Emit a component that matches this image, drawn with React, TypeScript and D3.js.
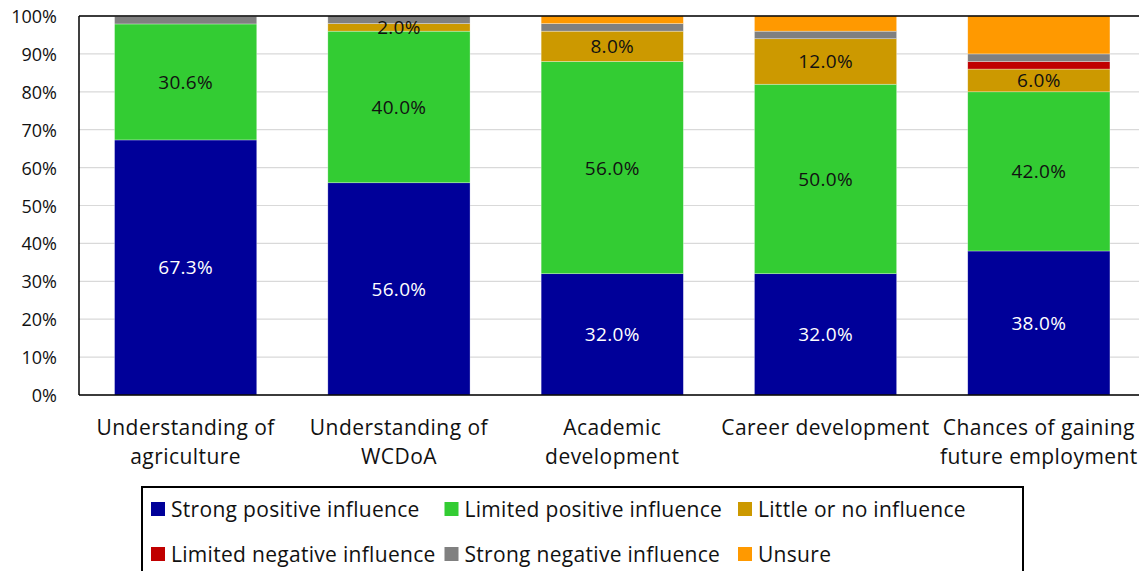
import React from 'react';
import * as d3 from 'd3';

// categories (two-line labels on the x axis)
const categories = [
  ['Understanding of', 'agriculture'],
  ['Understanding of', 'WCDoA'],
  ['Academic', 'development'],
  ['Career development'],
  ['Chances of gaining', 'future employment'],
];

const seriesNames = [
  'Strong positive influence',
  'Limited positive influence',
  'Little or no influence',
  'Limited negative influence',
  'Strong negative influence',
  'Unsure',
];
const seriesColors = ['#000099', '#33CC33', '#CC9900', '#C00000', '#808080', '#FF9900'];
const labelColors = ['#ffffff', '#111111', '#111111', null, null, null];

// percentages per category, one array per series
const strongPositive = [67.3, 56.0, 32.0, 32.0, 38.0];
const limitedPositive = [30.6, 40.0, 56.0, 50.0, 42.0];
const littleOrNone = [0, 2.0, 8.0, 12.0, 6.0];
const limitedNegative = [0, 0, 0, 0, 2.0];
const strongNegative = [2.0, 2.0, 2.0, 2.0, 2.0];
const unsure = [0, 0, 2.0, 4.0, 10.0];

const yTicks = [0, 10, 20, 30, 40, 50, 60, 70, 80, 90, 100];

const W = 1139;
const H = 571;
const FONT = '"Open Sans", sans-serif';

const App = () => {
  const keys = categories.map((c) => c.join(' '));
  const rows = keys.map((k, i) => ({
    key: k,
    s0: strongPositive[i],
    s1: limitedPositive[i],
    s2: littleOrNone[i],
    s3: limitedNegative[i],
    s4: strongNegative[i],
    s5: unsure[i],
  }));
  const stack = d3.stack<any>().keys(['s0', 's1', 's2', 's3', 's4', 's5']);
  const layers = stack(rows);

  const left = 79;
  const top = 16;
  const bottom = 395;
  const step = 213.3;

  const x = d3
    .scaleBand()
    .domain(keys)
    .range([left, left + step * keys.length])
    .paddingInner(1 / 3)
    .paddingOuter(1 / 6);
  const y = d3.scaleLinear().domain([0, 100]).range([bottom, top]);

  const right = left + step * keys.length;

  return (
    <svg
      width={W}
      height={H}
      style={{ position: 'absolute', left: 0, top: 0, background: '#fff' }}
      fontFamily={FONT}
    >
      {/* grid */}
      {yTicks.map((t) => (
        <line key={'g' + t} x1={left} x2={right} y1={y(t)} y2={y(t)} stroke="#d9d9d9" strokeWidth={1.2} />
      ))}

      {/* bars */}
      {layers.map((layer, si) => (
        <g key={si} fill={seriesColors[si]}>
          {layer.map((d, i) =>
            d[1] - d[0] > 0 ? (
              <rect
                key={i}
                x={x(keys[i])}
                width={x.bandwidth()}
                y={y(d[1])}
                height={y(d[0]) - y(d[1])}
                stroke="#ffffff"
                strokeOpacity={0.5}
                strokeWidth={0.6}
              />
            ) : null
          )}
        </g>
      ))}

      {/* data labels */}
      {layers.map((layer, si) =>
        labelColors[si]
          ? layer.map((d, i) =>
              d[1] - d[0] > 0 ? (
                <text
                  key={si + '-' + i}
                  x={(x(keys[i]) as number) + x.bandwidth() / 2}
                  y={(y(d[0]) + y(d[1])) / 2}
                  textAnchor="middle"
                  dominantBaseline="central"
                  fontSize={19}
                  letterSpacing={0.3}
                  fill={labelColors[si] as string}
                >
                  {(d[1] - d[0]).toFixed(1) + '%'}
                </text>
              ) : null
            )
          : null
      )}

      {/* frame */}
      <line x1={left} x2={left} y1={top} y2={bottom} stroke="#000" strokeWidth={1.5} />
      <line x1={left} x2={right} y1={top} y2={top} stroke="#000" strokeWidth={1.5} />
      <line x1={left} x2={right} y1={bottom} y2={bottom} stroke="#000" strokeWidth={1.5} />

      {/* y ticks */}
      {yTicks.map((t) => (
        <text key={'t' + t} x={57} y={y(t)} textAnchor="end" dominantBaseline="central" fontSize={18} fill="#111">
          {t + '%'}
        </text>
      ))}

      {/* x labels */}
      {categories.map((lines, i) => (
        <text
          key={'x' + i}
          x={(x(keys[i]) as number) + x.bandwidth() / 2}
          textAnchor="middle"
          fontSize={21}
          letterSpacing={0.45}
          fill="#111"
        >
          {lines.map((ln, j) => (
            <tspan key={j} x={(x(keys[i]) as number) + x.bandwidth() / 2} y={427 + j * 29} dominantBaseline="central">
              {ln}
            </tspan>
          ))}
        </text>
      ))}

      {/* legend */}
      <rect x={142} y={487} width={881} height={100} fill="none" stroke="#000" strokeWidth={2} />
      {seriesNames.map((name, i) => {
        const col = i % 3;
        const row = Math.floor(i / 3);
        const lx = 151 + col * 293.5;
        const ly = 509 + row * 45;
        return (
          <g key={'l' + i}>
            <rect x={lx} y={ly - 7} width={14} height={14} fill={seriesColors[i]} />
            <text x={lx + 20} y={ly} dominantBaseline="central" fontSize={21} letterSpacing={0.3} fill="#111">
              {name}
            </text>
          </g>
        );
      })}
    </svg>
  );
};

export default App;
